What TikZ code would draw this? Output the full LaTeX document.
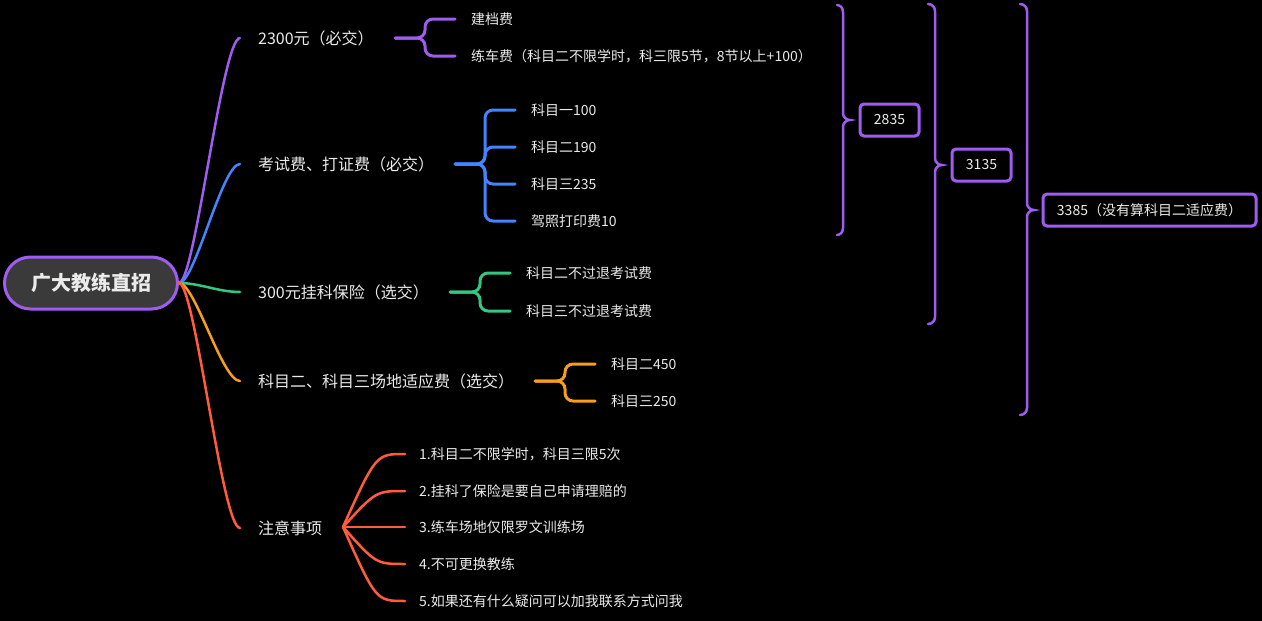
\documentclass[tikz,border=0pt]{standalone}
\usepackage{fontspec}
\setmainfont{Noto Sans CJK SC}
\usetikzlibrary{calc}
\definecolor{cpurple}{RGB}{158,92,240}
\definecolor{cblue}{RGB}{66,133,255}
\definecolor{cgreen}{RGB}{52,199,130}
\definecolor{corange}{RGB}{247,158,27}
\definecolor{cred}{RGB}{255,92,62}
\definecolor{ctext}{RGB}{235,235,235}
\definecolor{rootfill}{RGB}{58,58,58}
\begin{document}
\begin{tikzpicture}[x=1pt,y=-1pt,
  mainlbl/.style={anchor=west,inner xsep=18pt,inner ysep=0pt,text=ctext,font=\fontsize{16}{18}\selectfont},
  leaf/.style={anchor=west,inner xsep=16pt,inner ysep=0pt,text=ctext,font=\fontsize{14}{16}\selectfont},
  branch/.style={line width=2.5pt,line cap=round},
  brk/.style={line width=3pt,rounded corners=8pt,line cap=round},
  fan/.style={line width=2.5pt,line cap=round},
  sumbrace/.style={draw=cpurple,line width=2.5pt,line cap=round},
  sumbox/.style={draw=cpurple,line width=3pt,rounded corners=4pt,text=ctext,font=\fontsize{14}{16}\selectfont,minimum height=32pt,inner xsep=8pt,inner ysep=0pt}
]
\fill[black] (0,0) rectangle (1262,621);
\useasboundingbox (0,0) rectangle (1262,621);

% root
\node[draw=cpurple,line width=3pt,fill=rootfill,rounded corners=26pt,minimum width=173pt,minimum height=52pt,text=ctext,font=\fontsize{20}{24}\selectfont\bfseries] (root) at (91,283) {广大教练直招};

% main topics
\node[mainlbl] (m1) at (240,38) {2300元（必交）};
\node[mainlbl] (m2) at (240,164) {考试费、打证费（必交）};
\node[mainlbl] (m3) at (240,292) {300元挂科保险（选交）};
\node[mainlbl] (m4) at (240,381) {科目二、科目三场地适应费（选交）};
\node[mainlbl] (m5) at (240,528) {注意事项};

\draw[branch,cpurple] (root.east) .. controls (195,283) and (222,38) .. (m1.west);
\draw[branch,cblue] (root.east) .. controls (195,283) and (222,164) .. (m2.west);
\draw[branch,cgreen] (root.east) .. controls (200,283) and (218,292) .. (m3.west);
\draw[branch,corange] (root.east) .. controls (195,283) and (222,381) .. (m4.west);
\draw[branch,cred] (root.east) .. controls (195,283) and (222,528) .. (m5.west);

% purple children
\node[leaf] (a1) at (455,19) {建档费};
\node[leaf] (a2) at (455,56) {练车费（科目二不限学时，科三限5节，8节以上+100）};
\coordinate (ra) at (395,38);
\draw[brk,cpurple] (ra) -- (425,38) -- (425,19) -- (a1.west);
\draw[brk,cpurple] (ra) -- (425,38) -- (425,56) -- (a2.west);

% blue children
\node[leaf] (b1) at (515,110) {科目一100};
\node[leaf] (b2) at (515,147) {科目二190};
\node[leaf] (b3) at (515,184) {科目三235};
\node[leaf] (b4) at (515,221) {驾照打印费10};
\coordinate (rb) at (455,164);
\draw[brk,cblue] (rb) -- (485,164) -- (485,110) -- (b1.west);
\draw[brk,cblue] (rb) -- (485,164) -- (485,147) -- (b2.west);
\draw[brk,cblue] (rb) -- (485,164) -- (485,184) -- (b3.west);
\draw[brk,cblue] (rb) -- (485,164) -- (485,221) -- (b4.west);

% green children
\node[leaf] (g1) at (510,273) {科目二不过退考试费};
\node[leaf] (g2) at (510,311) {科目三不过退考试费};
\coordinate (rg) at (450,292);
\draw[brk,cgreen] (rg) -- (480,292) -- (480,273) -- (g1.west);
\draw[brk,cgreen] (rg) -- (480,292) -- (480,311) -- (g2.west);

% orange children
\node[leaf] (o1) at (595,364) {科目二450};
\node[leaf] (o2) at (595,401) {科目三250};
\coordinate (ro) at (535,381);
\draw[brk,corange] (ro) -- (565,381) -- (565,364) -- (o1.west);
\draw[brk,corange] (ro) -- (565,381) -- (565,401) -- (o2.west);

% red children
\node[leaf,inner xsep=14pt] (r1) at (405,454) {1.科目二不限学时，科目三限5次};
\node[leaf,inner xsep=14pt] (r2) at (405,491) {2.挂科了保险是要自己申请理赔的};
\node[leaf,inner xsep=14pt] (r3) at (405,527) {3.练车场地仅限罗文训练场};
\node[leaf,inner xsep=14pt] (r4) at (405,564) {4.不可更换教练};
\node[leaf,inner xsep=14pt] (r5) at (405,601) {5.如果还有什么疑问可以加我联系方式问我};
\coordinate (rr) at (343,527);
\draw[fan,cred] (rr) .. controls (376,454) .. (r1.west);
\draw[fan,cred] (rr) .. controls (376,491) .. (r2.west);
\draw[fan,cred] (rr) -- (r3.west);
\draw[fan,cred] (rr) .. controls (376,564) .. (r4.west);
\draw[fan,cred] (rr) .. controls (376,601) .. (r5.west);

% summaries
\draw[sumbrace] (837,5) to[out=0,in=90] (843,12) -- (843,113) to[out=-90,in=180] (850,120) to[out=180,in=90] (843,127) -- (843,228) to[out=-90,in=0] (837,235);
\node[sumbox,minimum width=59pt] (s1) at (889.5,120) {2835};

\draw[sumbrace] (928,4) to[out=0,in=90] (935,11) -- (935,158) to[out=-90,in=180] (942,165) to[out=180,in=90] (935,172) -- (935,317) to[out=-90,in=0] (928,324);
\node[sumbox,minimum width=59pt] (s2) at (981.5,165) {3135};

\draw[sumbrace] (1020,4) to[out=0,in=90] (1027,11) -- (1027,203) to[out=-90,in=180] (1034,210) to[out=180,in=90] (1027,217) -- (1027,408) to[out=-90,in=0] (1020,415);
\node[sumbox,minimum width=213pt] (s3) at (1149.5,210) {3385（没有算科目二适应费）};
\end{tikzpicture}
\end{document}
